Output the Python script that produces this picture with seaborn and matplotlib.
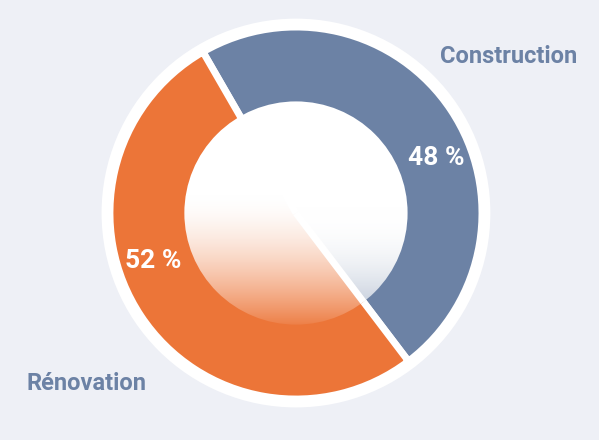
import numpy as np
import seaborn as sns
import matplotlib.pyplot as plt
from matplotlib.patches import Circle

categories = ['Construction', 'Rénovation']
values = [48, 52]
colors = ['#6c82a5', '#ec7538']
pct_labels = ['48 %', '52 %']

bg = '#eef0f6'
sns.set_theme(style='white')
plt.rcParams['font.family'] = ['Roboto', 'DejaVu Sans']

fig = plt.figure(figsize=(5.99, 4.40), dpi=100)
fig.patch.set_facecolor(bg)
ax = fig.add_axes([0, 0, 1, 1])
ax.set_facecolor(bg)
ax.set_xlim(-1.591, 1.629)
ax.set_ylim(-1.220, 1.145)
ax.set_aspect('equal')
ax.axis('off')

start = 120
# white rim behind the ring
ax.add_patch(Circle((0, 0), 1.045, facecolor='white', edgecolor='none', zorder=1))

wedges, _ = ax.pie(values, colors=colors, startangle=start, counterclock=False,
                   radius=1.0, wedgeprops=dict(edgecolor='white', linewidth=5),
                   frame=True)
for w in wedges:
    w.set_zorder(2)
ax.set_xlim(-1.591, 1.629)
ax.set_ylim(-1.220, 1.145)
ax.axis('off')

# wedge boundaries (degrees, clockwise from start)
total = sum(values)
bounds = [start]
for v in values:
    bounds.append(bounds[-1] - v / total * 360)

# inner disc with soft white gradient
r_in = 0.6
n = 400
xs = np.linspace(-1, 1, n)
X, Y = np.meshgrid(xs, xs[::-1])
theta = np.degrees(np.arctan2(Y, X))
in_first = (theta < bounds[0]) & (theta > bounds[1])
down = -Y
w_or = np.clip((down + 0.15) / 1.15, 0, 1) ** 1.6 * 0.92
w_bl = np.clip((down + 0.05) / 0.8, 0, 1) ** 2.2 * 0.32
wt = np.where(in_first, w_bl, w_or)
rgb = np.zeros((n, n, 3))
for i, c in enumerate(colors):
    col = np.array(sns.color_palette([c])[0])
    mask = in_first if i == 0 else ~in_first
    rgb[mask] = col
img = 1 - wt[..., None] * (1 - rgb)
im = ax.imshow(img, extent=[-r_in, r_in, -r_in, r_in], zorder=3, interpolation='bilinear')
clip = Circle((0, 0), r_in, transform=ax.transData)
im.set_clip_path(clip)

# separators through the inner disc
for b in bounds[:2]:
    a = np.radians(b)
    ax.plot([0, r_in * np.cos(a)], [0, r_in * np.sin(a)], color='white', lw=5,
            solid_capstyle='butt', zorder=4)

# percentage labels
offsets = [-12, -15]
for i, lab in enumerate(pct_labels):
    mid = (bounds[i] + bounds[i + 1]) / 2 + offsets[i]
    a = np.radians(mid)
    ax.text(0.81 * np.cos(a), 0.81 * np.sin(a), lab, color='white', fontsize=19,
            fontweight='bold', ha='center', va='center', zorder=5)

lab_font = ['Liberation Sans Narrow', 'Roboto', 'DejaVu Sans']
ax.text(1.145, 0.84, categories[0], color=colors[0], fontsize=17, fontweight='bold',
        family=lab_font, ha='center', va='center')
ax.text(-1.128, -0.914, categories[1], color=colors[0], fontsize=17, fontweight='bold',
        family=lab_font, ha='center', va='center')

fig.savefig('out.png', dpi=100, facecolor=bg)
